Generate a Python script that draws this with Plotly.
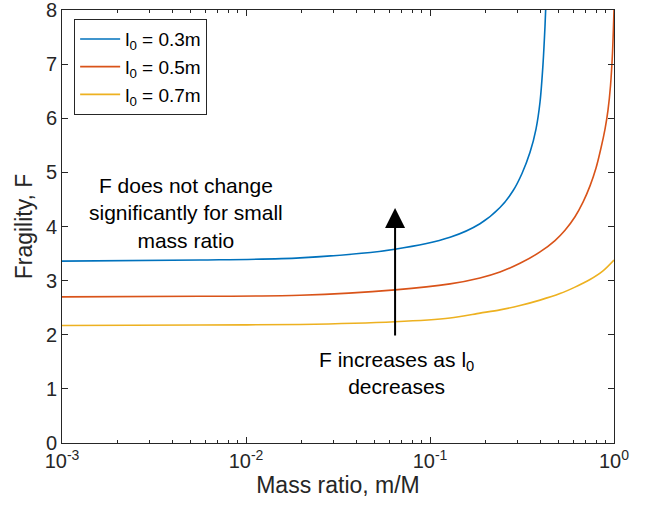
import math
import plotly.graph_objects as go

# ---- data ----
blue_x = [0.001, 0.00562, 0.01966, 0.0645, 0.1285, 0.1869, 0.2401, 0.2826, 0.3162, 0.3496, 0.3768, 0.3962, 0.4113, 0.4217, 0.4286]
blue_y = [3.36, 3.38, 3.42, 3.58, 3.80, 4.05, 4.35, 4.66, 4.98, 5.37, 5.80, 6.30, 7.00, 7.70, 8.30]

red_x = [0.001, 0.00562, 0.01966, 0.0645, 0.1285, 0.1869, 0.2401, 0.3084, 0.3962, 0.4779, 0.5417, 0.6138, 0.6786, 0.7407, 0.7985, 0.8498, 0.8936, 0.9277, 0.9572, 0.9813, 1.0]
red_y = [2.70, 2.71, 2.73, 2.83, 2.94, 3.05, 3.16, 3.32, 3.53, 3.74, 3.93, 4.18, 4.45, 4.75, 5.08, 5.45, 5.80, 6.15, 6.60, 7.20, 8.00]

yel_x = [0.001, 0.00562, 0.01966, 0.0645, 0.1285, 0.1869, 0.2401, 0.3084, 0.3962, 0.5086, 0.6138, 0.7407, 0.8713, 1.0]
yel_y = [2.17, 2.18, 2.19, 2.24, 2.31, 2.40, 2.46, 2.54, 2.64, 2.76, 2.88, 3.02, 3.18, 3.38]

series_names = ["l<sub>0</sub> = 0.3m", "l<sub>0</sub> = 0.5m", "l<sub>0</sub> = 0.7m"]
series_colors = ["#0072BD", "#D95319", "#EDB120"]

x_tickvals = [0.001, 0.01, 0.1, 1]
x_ticktext = ["10<sup>-3</sup>", "10<sup>-2</sup>", "10<sup>-1</sup>", "10<sup>0</sup>"]
x_minorvals = [k * 10.0 ** e for e in (-3, -2, -1) for k in range(2, 10)]
y_tickvals = [0, 1, 2, 3, 4, 5, 6, 7, 8]

note1_x, note1_y = 0.00472, 4.25
note2_x, note2_y = 0.066, 1.29
arrow_x = 0.0646
arrow_tail_y = 1.96
arrow_head_y = 4.34

FONT = "Liberation Sans, Arial, Helvetica, sans-serif"
AX = "#262626"

fig = go.Figure()
for xs, ys, name, col in zip([blue_x, red_x, yel_x], [blue_y, red_y, yel_y], series_names, series_colors):
    fig.add_trace(go.Scatter(x=xs, y=ys, mode="lines", name=name,
                             line=dict(color=col, width=1.6, shape="spline", smoothing=0.8)))

fig.add_annotation(x=math.log10(note1_x), y=note1_y, xref="x", yref="y", showarrow=False,
                   text="F does not change<br>significantly for small<br>mass ratio",
                   font=dict(family=FONT, size=21, color="black"), align="center")
fig.add_annotation(x=math.log10(note2_x), y=note2_y, xref="x", yref="y", showarrow=False,
                   text="F increases as l<sub>0</sub><br>decreases",
                   font=dict(family=FONT, size=21, color="black"), align="center")
fig.add_annotation(x=math.log10(arrow_x), y=arrow_head_y, ax=math.log10(arrow_x), ay=arrow_tail_y,
                   xref="x", yref="y", axref="x", ayref="y", text="",
                   showarrow=True, arrowhead=2, arrowsize=2.0, arrowwidth=2, arrowcolor="black")

fig.update_layout(
    width=660, height=510,
    margin=dict(l=62, r=46, t=10, b=67),
    paper_bgcolor="white", plot_bgcolor="white",
    font=dict(family=FONT, size=20, color=AX),
    showlegend=True,
    legend=dict(x=0.022, y=0.979, xanchor="left", yanchor="top",
                bgcolor="white", bordercolor=AX, borderwidth=1,
                font=dict(family=FONT, size=19, color="black"),
                tracegroupgap=0, itemwidth=40),
)
fig.update_xaxes(type="log", range=[-3, 0], tickmode="array", tickvals=x_tickvals, ticktext=x_ticktext,
                 automargin=False, ticklabeloverflow="allow",
                 showline=True, linecolor=AX, linewidth=1, mirror="allticks",
                 ticks="inside", ticklen=6, tickcolor=AX, showgrid=False, zeroline=False,
                 minor=dict(tickmode="array", tickvals=x_minorvals, ticks="inside", ticklen=3,
                            tickcolor=AX, showgrid=False),
                 title=dict(text="Mass ratio, m/M", font=dict(size=23, color=AX), standoff=4),
                 tickfont=dict(size=20, color=AX))
fig.update_yaxes(range=[0, 8], tickmode="array", tickvals=y_tickvals,
                 automargin=False, ticklabeloverflow="allow",
                 showline=True, linecolor=AX, linewidth=1, mirror="allticks",
                 ticks="inside", ticklen=6, tickcolor=AX, showgrid=False, zeroline=False,
                 title=dict(text="Fragility, F", font=dict(size=23, color=AX), standoff=6),
                 tickfont=dict(size=20, color=AX))

# remove the browser's default 8px body margin so the figure fills the window
fig.write_html("out.html", config={"displayModeBar": False},
               post_script="document.body.style.margin='0px';")
